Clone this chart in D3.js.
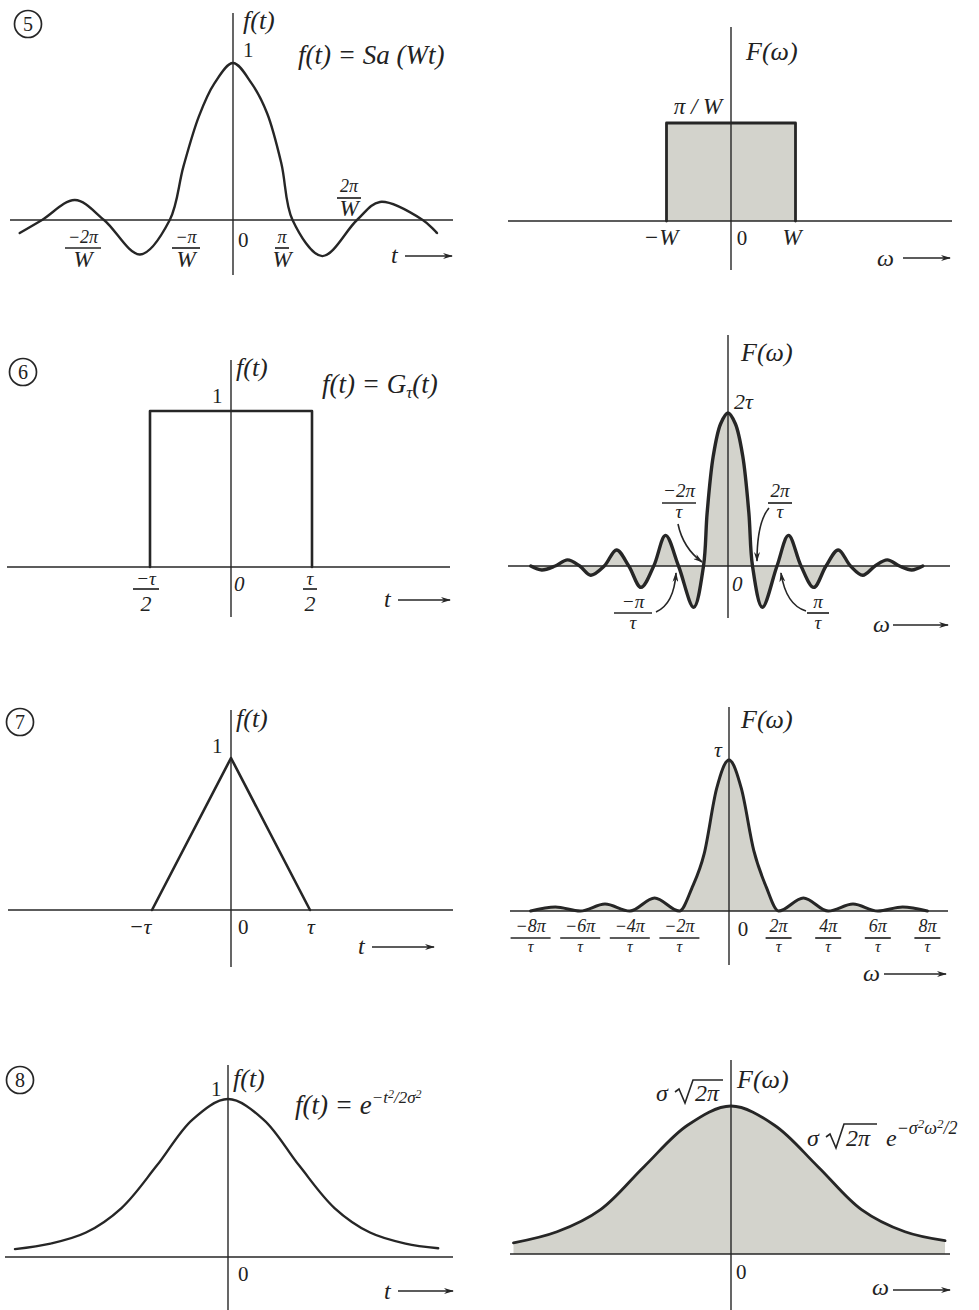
<!DOCTYPE html>
<html><head><meta charset="utf-8">
<script src="https://cdn.jsdelivr.net/npm/d3@7"></script>
<style>
body{margin:0;background:#fff}
svg{display:block}
text{font-family:"Liberation Serif","DejaVu Serif",serif;fill:#222}
</style>
</head><body>
<svg id="c" width="979" height="1310"></svg>
<script>
// ---------- data ----------
// 5: f(t)=Sa(Wt), t in units of pi/W
const sincT = [-3.44,-3.08,-2.55,-2.08,-1.5,-1.02,-0.8,-0.55,-0.3,0,0.3,0.55,0.78,0.96,1.44,2.0,2.37,3.06,3.29];
const sincF = [-0.083,0,0.127,0,-0.22,0,0.34,0.66,0.87,1,0.87,0.68,0.36,0,-0.23,0,0.115,0,-0.083];
// 5: F(w) rectangle, w in units of W
const rectW = [-1,-1,1,1];
const rectF = [0,1,1,0];
// 6: gate, t in units of tau/2
const gateT = [-1,-1,1,1];
const gateF = [0,1,1,0];
// 6: F(w) sinc, w in units of the zero spacing
const sincWK = [-8.05,-7.6,-7.05,-6.55,-6.05,-5.6,-5.05,-4.55,-4.05,-3.55,-3.03,-2.55,-2.02,-1.4,-1,-0.85,-0.6,-0.3,0,0.3,0.6,0.85,1,1.4,2.0,2.47,2.98,3.5,4.0,4.5,5.0,5.5,6.0,6.5,7.0,7.5,7.95];
const sincWF = [0,-0.026,0,0.04,0,-0.06,0,0.105,0,-0.14,0,0.2,0,-0.27,0,0.35,0.72,0.93,1,0.93,0.72,0.35,0,-0.27,0,0.2,0,-0.14,0,0.105,0,-0.06,0,0.04,0,-0.026,0];
// 7: triangle, t in units of tau
const triT = [-1,0,1];
const triF = [0,1,0];
// 7: F(w) Sa^2, w in units of pi/tau
const sinc2U = [-8,-7,-6,-5,-4,-3,-2,-1.5,-1,-0.5,0,0.5,1,1.5,2,3,4,5,6,7,8];
const sinc2F = [0,0.026,0,0.046,0,0.086,0,0.15,0.38,0.81,1,0.81,0.4,0.16,0,0.086,0,0.046,0,0.026,0];
const sinc2Ticks = [-8,-6,-4,-2,2,4,6,8];
const sinc2TickLabels = ["\u22128\u03c0","\u22126\u03c0","\u22124\u03c0","\u22122\u03c0","2\u03c0","4\u03c0","6\u03c0","8\u03c0"];
// 8: gaussian, t in units of sigma
const gaussT = [-3,-2.5,-2,-1.5,-1,-0.5,0,0.5,1,1.5,2,2.5,2.96];
const gaussF = [0.05,0.085,0.155,0.31,0.58,0.87,1,0.87,0.58,0.31,0.155,0.085,0.055];
// 8: F(w) gaussian, w in units of 1/sigma
const gaussW = [-2.5,-2,-1.5,-1,-0.5,0,0.5,1,1.5,2,2.46];
const gaussFW = [0.075,0.15,0.3,0.59,0.87,1,0.87,0.59,0.3,0.15,0.09];

// ---------- drawing ----------
const INK = "#262626", FILL = "#d3d3cc";
const svg = d3.select("#c");
svg.append("rect").attr("width",979).attr("height",1310).attr("fill","#fff");
const defs = svg.append("defs");
defs.append("marker").attr("id","ah").attr("viewBox","0 0 10 6")
  .attr("refX",9).attr("refY",3).attr("markerWidth",11).attr("markerHeight",6)
  .attr("markerUnits","userSpaceOnUse").attr("orient","auto")
  .append("path").attr("d","M0,0 L10,3 L0,6 L3,3 Z").attr("fill",INK);

const smooth = d3.curveCatmullRom.alpha(0.5);
const panels = [
  {cx:233, unit:62,  base:220,  h:157, ax:[10,453],  ay:[13,275],   xs:sincT,  ys:sincF,  curve:smooth,           sw:2.4, fill:false},
  {cx:731, unit:64.5,base:221,  h:98,  ax:[508,952], ay:[27,270],   xs:rectW,  ys:rectF,  curve:d3.curveLinear,   sw:2.8, fill:true},
  {cx:231, unit:81,  base:567,  h:156, ax:[7,450],   ay:[360,617],  xs:gateT,  ys:gateF,  curve:d3.curveLinear,   sw:2.6, fill:false},
  {cx:728, unit:24.5,base:566,  h:153, ax:[508,950], ay:[335,618],  xs:sincWK, ys:sincWF, curve:smooth,           sw:3.4, fill:true},
  {cx:231, unit:79,  base:910,  h:152, ax:[8,453],   ay:[710,967],  xs:triT,   ys:triF,   curve:d3.curveLinear,   sw:2.6, fill:false},
  {cx:729, unit:24.8,base:911,  h:151, ax:[510,948], ay:[707,965],  xs:sinc2U, ys:sinc2F, curve:d3.curveMonotoneX, sw:3,  fill:true},
  {cx:228, unit:71,  base:1257, h:158, ax:[5,453],   ay:[1065,1310],xs:gaussT, ys:gaussF, curve:smooth,           sw:2.4, fill:false},
  {cx:731, unit:87,  base:1254, h:148, ax:[510,950], ay:[1060,1310],xs:gaussW, ys:gaussFW,curve:smooth,           sw:2.8, fill:true}
];

panels.forEach(p => {
  const x = d3.scaleLinear().domain([0,1]).range([p.cx, p.cx + p.unit]);
  const y = d3.scaleLinear().domain([0,1]).range([p.base, p.base - p.h]);
  p.x = x; p.y = y;
  const pts = p.xs.map((v,i) => [v, p.ys[i]]);
  if (p.fill) {
    svg.append("path").datum(pts)
      .attr("d", d3.area().x(d=>x(d[0])).y0(y(0)).y1(d=>y(d[1])).curve(p.curve))
      .attr("fill", FILL);
  }
  svg.append("line").attr("x1",p.ax[0]).attr("x2",p.ax[1]).attr("y1",y(0)).attr("y2",y(0))
    .attr("stroke",INK).attr("stroke-width",1.4);
  svg.append("line").attr("x1",x(0)).attr("x2",x(0)).attr("y1",p.ay[0]).attr("y2",p.ay[1])
    .attr("stroke",INK).attr("stroke-width",1.4);
  svg.append("path").datum(pts)
    .attr("d", d3.line().x(d=>x(d[0])).y(d=>y(d[1])).curve(p.curve))
    .attr("fill","none").attr("stroke",INK).attr("stroke-width",p.sw)
    .attr("stroke-linejoin","round").attr("stroke-linecap","round");
});

// ---------- text helpers ----------
const SERIF = "'Liberation Serif','DejaVu Serif',serif";
function T(x, y, s, size, opt = {}) {
  const t = svg.append("text").attr("x",x).attr("y",y).attr("font-size",size)
    .attr("font-family", SERIF).attr("text-anchor", opt.anchor || "start");
  if (opt.italic) t.attr("font-style","italic");
  t.text(s);
  return t;
}
function rich(x, y, size, segs, opt = {}) {
  const t = svg.append("text").attr("x",x).attr("y",y).attr("font-size",size)
    .attr("font-family", SERIF).attr("text-anchor", opt.anchor || "start");
  if (opt.italic) t.attr("font-style","italic");
  segs.forEach(s => {
    const ts = t.append("tspan").text(s.t);
    if (s.dy) ts.attr("dy", s.dy);
    if (s.size) ts.attr("font-size", s.size);
  });
  return t;
}
function frac(cx, yNum, yBar, yDen, num, den, nSize, dSize, barW) {
  T(cx, yNum, num, nSize, {anchor:"middle", italic:true});
  T(cx, yDen, den, dSize, {anchor:"middle", italic:true});
  svg.append("line").attr("x1",cx-barW/2).attr("x2",cx+barW/2).attr("y1",yBar).attr("y2",yBar)
    .attr("stroke",INK).attr("stroke-width",1.7);
}
function arrowLabel(xText, yText, sym, x1, x2, yArrow, size) {
  T(xText, yText, sym, size, {italic:true});
  svg.append("line").attr("x1",x1).attr("x2",x2).attr("y1",yArrow).attr("y2",yArrow)
    .attr("stroke",INK).attr("stroke-width",1.4).attr("marker-end","url(#ah)");
}
function circled(cx, cy, d) {
  svg.append("circle").attr("cx",cx).attr("cy",cy).attr("r",13.5)
    .attr("fill","none").attr("stroke",INK).attr("stroke-width",1.7);
  svg.append("text").attr("x",cx).attr("y",cy+7).attr("font-size",20)
    .attr("text-anchor","middle").attr("font-family","'DejaVu Sans',sans-serif").text(d);
}
function radical(x, yBase, yTop, w) {
  svg.append("path")
    .attr("d", `M${x},${yBase-9} L${x+4},${yBase-12} L${x+10},${yBase+2} L${x+18},${yTop} L${x+18+w},${yTop}`)
    .attr("fill","none").attr("stroke",INK).attr("stroke-width",1.6).attr("stroke-linejoin","miter");
}

// ---------- panel 5 ----------
circled(28, 24, "5");
T(243, 29, "f(t)", 26, {italic:true});
T(243, 57, "1", 21);
T(298, 64, "f(t) = Sa (Wt)", 27, {italic:true});
frac(83, 243, 248, 267, "\u22122\u03c0", "W", 18, 23, 36);
frac(186, 243, 248, 267, "\u2212\u03c0", "W", 18, 23, 28);
frac(282, 243, 248, 267, "\u03c0", "W", 18, 23, 14);
frac(349, 192, 198, 216, "2\u03c0", "W", 18, 23, 24);
T(238, 247, "0", 21);
arrowLabel(391, 263, "t", 405, 452, 256, 24);

T(746, 60, "F(\u03c9)", 26, {italic:true});
T(698, 114, "\u03c0 / W", 23, {italic:true, anchor:"middle"});
T(661, 245, "\u2212W", 23, {italic:true, anchor:"middle"});
T(742, 245, "0", 21, {anchor:"middle"});
T(792, 245, "W", 23, {italic:true, anchor:"middle"});
arrowLabel(877, 266, "\u03c9", 903, 950, 258, 24);

// ---------- panel 6 ----------
circled(23, 372, "6");
T(236, 376, "f(t)", 26, {italic:true});
T(212, 403, "1", 21);
rich(322, 393, 27, [{t:"f(t) = G"},{t:"\u03c4",dy:5,size:17},{t:"(t)",dy:-5}], {italic:true});
frac(146, 585, 589, 611, "\u2212\u03c4", "2", 19, 22, 26);
frac(310, 585, 589, 611, "\u03c4", "2", 19, 22, 14);
T(234, 591, "0", 21, {italic:true});
arrowLabel(384, 607, "t", 398, 450, 600, 24);

T(741, 361, "F(\u03c9)", 26, {italic:true});
T(734, 409, "2\u03c4", 22, {italic:true});
T(732, 591, "0", 21, {italic:true});
frac(679, 497, 503, 518, "\u22122\u03c0", "\u03c4", 19, 19, 34);
frac(780, 497, 503, 518, "2\u03c0", "\u03c4", 19, 19, 24);
frac(633, 608, 613, 629, "\u2212\u03c0", "\u03c4", 19, 19, 38);
frac(818, 608, 613, 629, "\u03c0", "\u03c4", 19, 19, 22);
[
  "M678,524 Q683,548 702,562",
  "M769,508 Q757,522 757,561",
  "M656,612 Q674,604 676,573",
  "M806,611 Q786,605 781,573"
].forEach(d => svg.append("path").attr("d", d).attr("fill","none").attr("stroke",INK)
  .attr("stroke-width",1.6).attr("marker-end","url(#ah)"));
arrowLabel(873, 632, "\u03c9", 893, 948, 625, 24);

// ---------- panel 7 ----------
circled(20, 722, "7");
T(236, 727, "f(t)", 26, {italic:true});
T(212, 753, "1", 21);
T(140, 934, "\u2212\u03c4", 22, {italic:true, anchor:"middle"});
T(238, 934, "0", 21);
T(311, 934, "\u03c4", 22, {italic:true, anchor:"middle"});
arrowLabel(358, 954, "t", 372, 434, 947, 24);

T(741, 728, "F(\u03c9)", 26, {italic:true});
T(718, 757, "\u03c4", 22, {italic:true, anchor:"middle"});
T(743, 936, "0", 21, {anchor:"middle"});
const p7 = panels[5];
sinc2Ticks.forEach((u,i) => {
  const w = sinc2TickLabels[i].length > 2 ? 40 : 26;
  frac(p7.x(u), 932, 938, 952, sinc2TickLabels[i], "\u03c4", 18, 16, w);
});
arrowLabel(863, 981, "\u03c9", 884, 946, 974, 24);

// ---------- panel 8 ----------
circled(20, 1080, "8");
T(211, 1096, "1", 21);
T(233, 1087, "f(t)", 26, {italic:true});
rich(295, 1114, 27, [{t:"f(t) = e"},{t:"\u2212t",dy:-11,size:17},{t:"2",dy:-5,size:12},{t:"/2\u03c3",dy:5,size:17},{t:"2",dy:-5,size:12}], {italic:true});
T(238, 1281, "0", 21);
arrowLabel(384, 1299, "t", 398, 453, 1291, 24);

T(737, 1088, "F(\u03c9)", 26, {italic:true});
T(656, 1101, "\u03c3", 24, {italic:true});
radical(675, 1101, 1080, 30);
T(695, 1101, "2\u03c0", 24, {italic:true});
T(807, 1146, "\u03c3", 24, {italic:true});
radical(826, 1146, 1124, 33);
T(846, 1146, "2\u03c0", 24, {italic:true});
rich(886, 1146, 24, [{t:"e"},{t:"\u2212\u03c3",dy:-12,size:18},{t:"2",dy:-6,size:13},{t:"\u03c9",dy:6,size:18},{t:"2",dy:-6,size:13},{t:"/2",dy:6,size:18}], {italic:true});
T(736, 1279, "0", 21);
arrowLabel(872, 1295, "\u03c9", 893, 950, 1290, 24);
</script>
</body></html>
